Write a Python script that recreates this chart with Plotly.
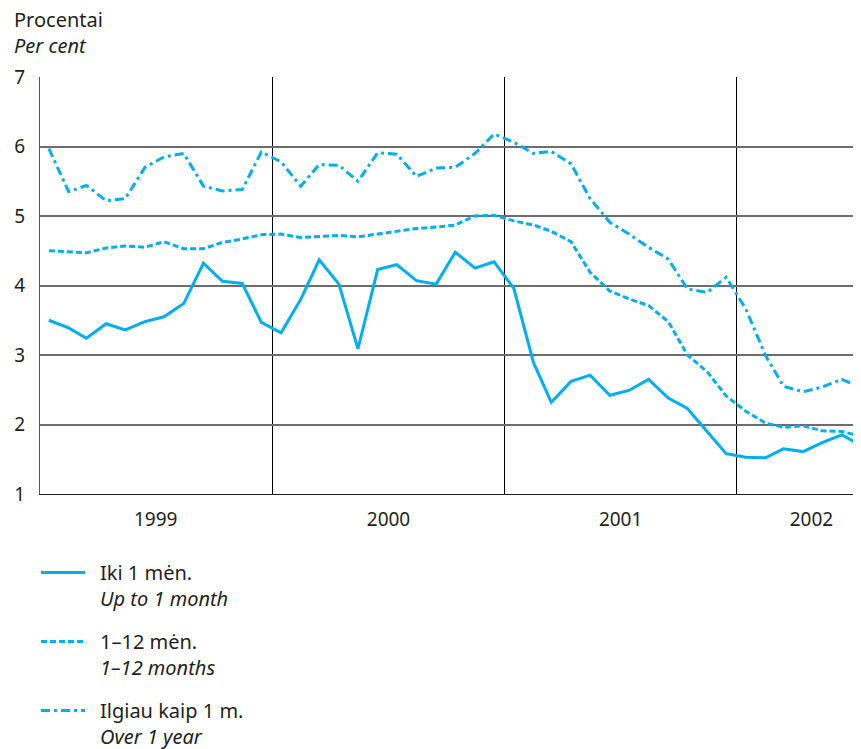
import pandas as pd
import plotly.graph_objects as go

# Monthly observations, Jan 1999 - Jul 2002
months = pd.date_range("1999-01-01", periods=43, freq="MS") + pd.Timedelta(days=14)

up_to_1_month = [3.50, 3.39, 3.24, 3.45, 3.36, 3.48, 3.55, 3.74, 4.32, 4.06, 4.03, 3.47,
                 3.32, 3.80, 4.37, 4.02, 3.09, 4.23, 4.30, 4.07, 4.02, 4.48, 4.25, 4.34,
                 3.96, 2.89, 2.32, 2.62, 2.71, 2.42, 2.49, 2.65, 2.38, 2.23, 1.90, 1.58,
                 1.53, 1.52, 1.65, 1.61, 1.74, 1.85, 1.70]
months_1_12 = [4.50, 4.48, 4.47, 4.54, 4.57, 4.55, 4.63, 4.53, 4.53, 4.62, 4.67, 4.73,
               4.74, 4.69, 4.70, 4.72, 4.70, 4.74, 4.78, 4.82, 4.84, 4.87, 5.00, 5.01,
               4.93, 4.87, 4.78, 4.63, 4.19, 3.92, 3.81, 3.71, 3.48, 3.00, 2.76, 2.41,
               2.19, 2.02, 1.96, 1.98, 1.91, 1.90, 1.83]
over_1_year = [5.97, 5.35, 5.44, 5.22, 5.25, 5.70, 5.85, 5.90, 5.43, 5.36, 5.38, 5.92,
               5.78, 5.43, 5.74, 5.73, 5.50, 5.91, 5.89, 5.57, 5.69, 5.70, 5.90, 6.18,
               6.06, 5.90, 5.93, 5.75, 5.25, 4.91, 4.74, 4.55, 4.38, 3.95, 3.90, 4.12,
               3.66, 2.99, 2.55, 2.47, 2.54, 2.65, 2.53]

year_labels = ["1999", "2000", "2001", "2002"]
year_label_pos = ["1999-07-02", "2000-07-02", "2001-07-02", "2002-04-28"]
y_ticks = [1, 2, 3, 4, 5, 6, 7]

SP = "\u2002"
series_names = [SP + "Iki 1 mėn.<br>" + SP + "<i>Up to 1 month</i>",
                SP + "1–12 mėn.<br>" + SP + "<i>1–12 months</i>",
                SP + "Ilgiau kaip 1 m.<br>" + SP + "<i>Over 1 year</i>"]

COLOR = "#00aeef"
FONT = "Noto Sans"
TXT = "#231f20"

# page body has an 8px margin; figure sized to fill the rest of the window
W, H = 853, 741
PL, PT, PW, PH = 32, 69, 821, 417

fig = go.Figure()
fig.add_trace(go.Scatter(x=months, y=up_to_1_month, mode="lines", name=series_names[0],
                         legendgroup="a", line=dict(color=COLOR, width=3, dash="solid")))
fig.add_trace(go.Scatter(x=months, y=months_1_12, mode="lines", name=series_names[1],
                         legendgroup="b", line=dict(color=COLOR, width=3, dash="6px,3px")))
fig.add_trace(go.Scatter(x=months, y=over_1_year, mode="lines", name=series_names[2],
                         legendgroup="c", line=dict(color=COLOR, width=3, dash="9px,4px,3px,4px")))

fig.update_layout(
    width=W, height=H,
    margin=dict(l=PL, r=W - PL - PW, t=PT, b=H - PT - PH, autoexpand=False),
    paper_bgcolor="white", plot_bgcolor="white",
    font=dict(family=FONT, size=19, color=TXT),
    showlegend=True,
    legend=dict(
        x=-4 / PW, y=-(553 - 494) / PH, xanchor="left", yanchor="top",
        font=dict(family=FONT, size=20, color=TXT),
        valign="top", tracegroupgap=14, itemwidth=44,
        bgcolor="rgba(0,0,0,0)",
    ),
    xaxis=dict(
        type="date", automargin=False,
        range=["1999-01-01", "2002-07-15"],
        tickmode="array", tickvals=year_label_pos, ticktext=year_labels,
        ticks="", showgrid=False, ticklabelstandoff=8,
        showline=True, linecolor=TXT, linewidth=1,
        minor=dict(tickmode="linear", tick0="2000-01-01", dtick="M12",
                   showgrid=True, gridcolor="#000000", gridwidth=1, ticks=""),
        zeroline=False,
    ),
    yaxis=dict(
        automargin=False,
        range=[1, 7], tickmode="array", tickvals=y_ticks,
        showgrid=True, gridcolor="#6d6d6d", gridwidth=1.5,
        showline=True, linecolor="#555555", linewidth=1,
        ticks="", ticklabelstandoff=10, zeroline=False,
    ),
)

fig.add_annotation(text="Procentai", xref="paper", yref="paper", x=-28 / PW, y=1 + 57 / PH,
                   xanchor="left", yanchor="middle", showarrow=False,
                   font=dict(family=FONT, size=20, color=TXT))
fig.add_annotation(text="<i>Per cent</i>", xref="paper", yref="paper", x=-28 / PW, y=1 + 32 / PH,
                   xanchor="left", yanchor="middle", showarrow=False,
                   font=dict(family=FONT, size=20, color=TXT))

fig.write_html("out.html")
